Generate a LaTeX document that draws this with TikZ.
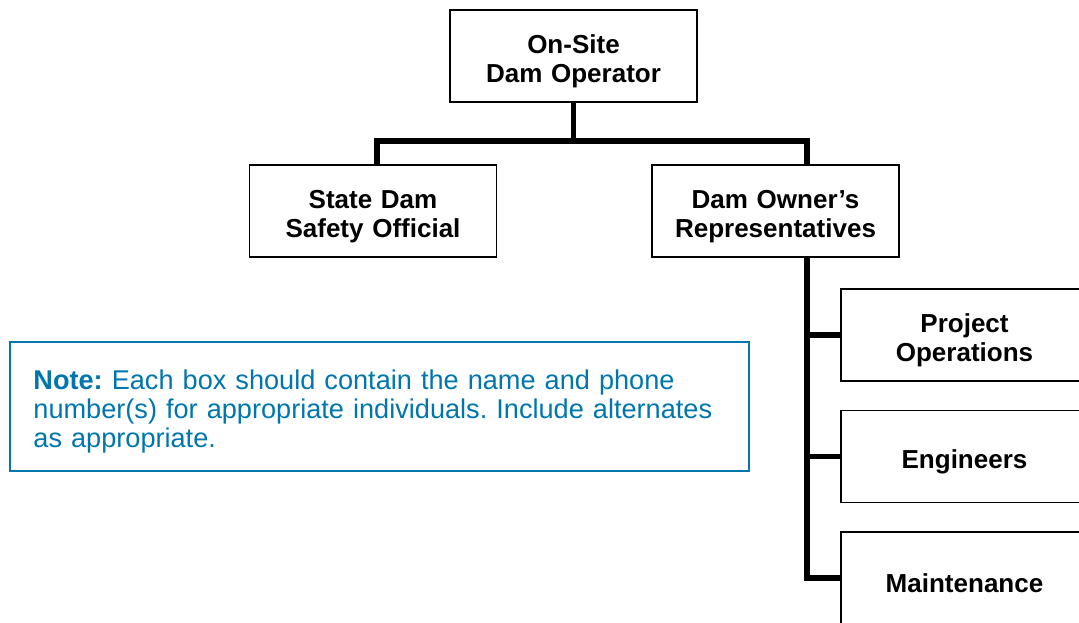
\documentclass[tikz,border=0pt]{standalone}
\usepackage{fontspec}
\setmainfont{Liberation Sans}
\usetikzlibrary{positioning}
\definecolor{noteblue}{RGB}{0,118,173}

\begin{document}
\begin{tikzpicture}[
	x=0.025cm, y=-0.025cm,
	every node/.style={font=\fontsize{18.5}{20.6}\selectfont\bfseries},
	box/.style = {draw, line width=1pt, align=center, text width=6cm, minimum width=6.175cm, minimum height=2.3cm, inner sep=0pt,
		execute at begin node=\rule{0pt}{21pt}},
	link/.style = {line width=3.8pt},
	note/.style = {draw=noteblue, line width=1.4pt, text=noteblue, text width=17.3cm, align=left, inner xsep=0.59cm, minimum height=3.225cm,
		font=\fontsize{19.3}{20.6}\selectfont\frenchspacing, execute at begin node=\rule{0pt}{20.5pt}}
	]
	\clip (0,0) rectangle (1079,623);

	\node[box] (op) at (573.5,56) {On-Site\\Dam Operator};
	\node[box] (state) at (373,211) {State Dam\\Safety Official};
	\node[box, right=3.85cm of state] (own) {Dam Owner's\\Representatives};

	\node[box] (proj) at (964.5,335) {Project\\Operations};
	\node[box, below=0.7cm of proj] (eng) {Engineers};
	\node[box, below=0.7cm of eng] (maint) {Maintenance};

	\node[note] (nb) at (379.5,406.5) {\textbf{Note:} Each box should contain the name and phone\\number(s) for appropriate individuals. Include alternates\\as appropriate.};

	\coordinate (@bus) at (573.5,141);
	\coordinate (@trunk) at ([xshift=0.7875cm]own.south);

	\draw[link] (op.south) -- (@bus);
	\draw[link] (@bus) -| ([xshift=0.1cm]state.north);
	\draw[link] (@bus) -| ([xshift=0.7875cm]own.north);

	\draw[link] (@trunk) |- (maint.west);
	\draw[link] (@trunk |- proj.west) -- (proj.west);
	\draw[link] (@trunk |- eng.west) -- (eng.west);

\end{tikzpicture}
\end{document}
